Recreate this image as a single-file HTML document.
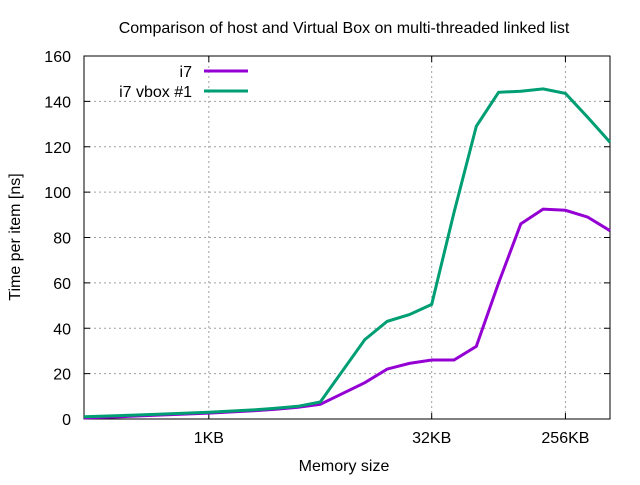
<!DOCTYPE html>
<html><head><meta charset="utf-8"><style>
body{margin:0;background:#fff}
svg{font-family:"Liberation Sans",sans-serif;font-size:16px}
</style></head><body>
<svg id="chart" width="640" height="480">
<rect width="640" height="480" fill="#fff"/>
<text x="344" y="33" text-anchor="middle">Comparison of host and Virtual Box on multi-threaded linked list</text>
<g id="grid"></g><g id="axes"></g><g id="series"></g>
<text x="344" y="471" text-anchor="middle">Memory size</text>
<text transform="translate(20,237) rotate(-90)" text-anchor="middle">Time per item [ns]</text>
<g>
<text x="192" y="77" text-anchor="end">i7</text>
<line x1="204" y1="71" x2="248" y2="71" stroke="#9400d3" stroke-width="3"/>
<text x="192" y="97" text-anchor="end">i7 vbox #1</text>
<line x1="204" y1="91" x2="248" y2="91" stroke="#009e73" stroke-width="3"/>
</g>
</svg>
<script>
const xLog2 = [7.2, 8, 9, 10, 11, 11.5, 12, 12.5, 13.5, 14, 14.5, 15, 15.5, 16, 16.5, 17, 17.5, 18, 18.5, 19];
const i7Values = [0.5, 1, 1.8, 2.6, 3.6, 4.3, 5.2, 6.5, 16, 22, 24.5, 26, 26, 32, 60, 86, 92.5, 92, 89, 83];
const vboxValues = [1, 1.5, 2.2, 3, 4, 4.7, 5.6, 7.5, 35, 43, 46, 50.5, 91, 129, 144, 144.5, 145.5, 143.5, 133, 122];
const yTicks = [0, 20, 40, 60, 80, 100, 120, 140, 160];
const xTickLog2 = [10, 15, 18];
const xTickLabels = ["1KB", "32KB", "256KB"];
const L=84,R=610,T=56,B=419,XMIN=7.2,XMAX=19;
const sx=v=>L+(v-XMIN)/(XMAX-XMIN)*(R-L);
const sy=v=>B-v/160*(B-T);
const NS="http://www.w3.org/2000/svg";
function mk(p,tag,at){const e=document.createElementNS(NS,tag);for(const k in at)e.setAttribute(k,at[k]);p.appendChild(e);return e;}
const grid=document.getElementById('grid'),axes=document.getElementById('axes'),ser=document.getElementById('series');
yTicks.forEach(t=>{const y=sy(t);
 if(t>0&&t<160){const g=mk(grid,'line',{x1:L,x2:R,y1:y,y2:y,stroke:'#a0a0a0','stroke-dasharray':'2,3','stroke-width':1});
 
 }
 const tk=mk(axes,'path',{d:`M${L} ${y}h6M${R} ${y}h-6`,stroke:'#000'});
 
 
 const tx=mk(axes,'text',{x:L-13,y:y+6,'text-anchor':'end'});tx.textContent=t;
 
 
});
xTickLog2.forEach((v,i)=>{const x=sx(v);
 const g=mk(grid,'line',{x1:x,x2:x,y1:T,y2:B,stroke:'#a0a0a0','stroke-dasharray':'2,3','stroke-width':1});
 
 
 const tk=mk(axes,'path',{d:`M${x} ${B}v-6M${x} ${T}v6`,stroke:'#000'});
 
 
 const tx=mk(axes,'text',{x:x,y:B+24,'text-anchor':'middle'});tx.textContent=xTickLabels[i];
 
 
});
const fr=mk(axes,'rect',{x:L,y:T,width:R-L,height:B-T,fill:'none',stroke:'#000'});


function line(vals,col,name){const d=vals.map((v,i)=>(i?'L':'M')+sx(xLog2[i]).toFixed(1)+' '+sy(v).toFixed(1)).join('');
 const p=mk(ser,'path',{d:d,fill:'none',stroke:col,'stroke-width':3,'stroke-linejoin':'miter'});
 
 }
line(i7Values,'#9400d3','series-i7');
line(vboxValues,'#009e73','series-i7-vbox');
</script>
</body></html>
